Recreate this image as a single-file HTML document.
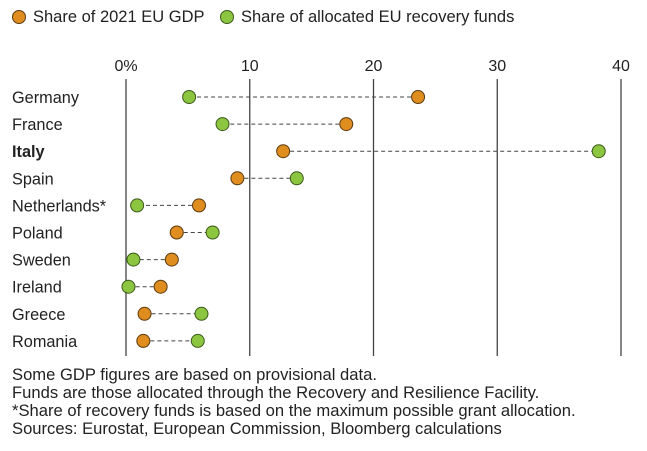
<!DOCTYPE html>
<html><head><meta charset="utf-8"><style>
body{margin:0;background:#fff;width:647px;height:446px;overflow:hidden;font-family:"Liberation Sans",sans-serif;}
svg text{font-family:"Liberation Sans",sans-serif;fill:#222;}
</style></head><body>
<svg width="647" height="446">
<g>
<circle cx="19" cy="17" r="6.5" fill="#df8d1f" stroke="#5a3a10" stroke-width="1"/>
<text x="33" y="22" font-size="16.5">Share of 2021 EU GDP</text>
<circle cx="227" cy="17" r="6.5" fill="#8cc540" stroke="#3c5a1a" stroke-width="1"/>
<text x="241" y="22" font-size="16.5">Share of allocated EU recovery funds</text>
</g>
<g id="grid"></g>
<g id="rows"></g>
<g font-size="16.6">
<text x="12" y="380">Some GDP figures are based on provisional data.</text>
<text x="12" y="398">Funds are those allocated through the Recovery and Resilience Facility.</text>
<text x="12" y="416">*Share of recovery funds is based on the maximum possible grant allocation.</text>
<text x="12" y="434">Sources: Eurostat, European Commission, Bloomberg calculations</text>
</g>
</svg>
<script>
const countries=["Germany","France","Italy","Spain","Netherlands*","Poland","Sweden","Ireland","Greece","Romania"];
const gdpShare=[23.6,17.8,12.7,9.0,5.9,4.1,3.7,2.8,1.5,1.4];
const fundsShare=[5.1,7.8,38.2,13.8,0.9,7.0,0.6,0.2,6.1,5.8];
const ticks=[0,10,20,30,40];
const tickLabels=["0%","10","20","30","40"];
const NS="http://www.w3.org/2000/svg";
const x=v=>126+v*12.375;
const y=i=>97+i*27.1;
function mk(tag,attrs,parent){const e=document.createElementNS(NS,tag);for(const k in attrs)e.setAttribute(k,attrs[k]);parent.appendChild(e);return e;}
const grid=document.getElementById('grid'),rows=document.getElementById('rows');
ticks.forEach((t,i)=>{
 const l=mk('line',{x1:x(t),x2:x(t),y1:79,y2:356,stroke:'#444','stroke-width':1.3},grid);
 
 
 const tx=mk('text',{x:x(t),y:71,'text-anchor':'middle','font-size':16},grid);
 tx.textContent=tickLabels[i];
 
 
});
countries.forEach((c,i)=>{
 const lb=mk('text',{x:12,y:y(i)+6,'font-size':16.3,'font-weight':c==="Italy"?'bold':'normal'},rows);
 lb.textContent=c;
 
 
 const ln=mk('line',{x1:x(gdpShare[i]),x2:x(fundsShare[i]),y1:y(i),y2:y(i),stroke:'#444','stroke-width':1,'stroke-dasharray':'4,3'},rows);
 
 
 const g=mk('circle',{cx:x(gdpShare[i]),cy:y(i),r:6.5,fill:'#df8d1f',stroke:'#5a3a10','stroke-width':1},rows);
 
 
 const f=mk('circle',{cx:x(fundsShare[i]),cy:y(i),r:6.5,fill:'#8cc540',stroke:'#3c5a1a','stroke-width':1},rows);
 
 
});
</script>
</body></html>
